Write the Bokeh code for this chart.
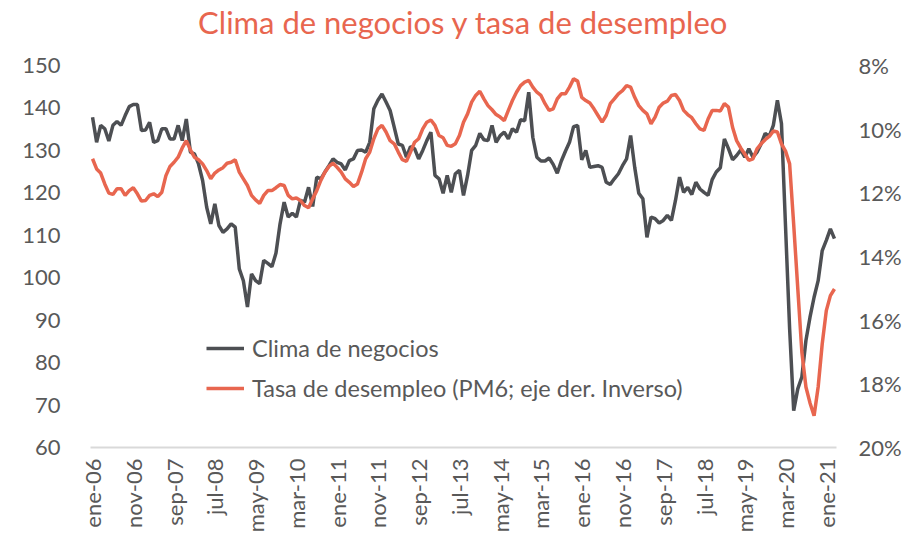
import math
from bokeh.plotting import figure
from bokeh.models import Range1d, LinearAxis, FixedTicker, PrintfTickFormatter, Legend, LegendItem, Title
from bokeh.embed import file_html
from bokeh.resources import INLINE

# ---- data (monthly, ene-06 .. mar-21) ----
clima = [
    137.8, 131.9, 135.9, 135.1, 132.2, 135.9, 136.8, 135.9, 138.2, 140.3,
    140.8, 140.8, 134.7, 134.8, 136.6, 131.9, 132.3, 135.1, 135.1, 132.7,
    132.7, 135.9, 132.3, 137.4, 129.6, 129.2, 126.8, 122.9, 116.6, 112.7,
    117.4, 112.3, 110.7, 111.5, 112.7, 111.9, 102.1, 99.3, 93.1, 100.9,
    99.3, 98.6, 104.1, 103.4, 102.6, 105.8, 112.7, 117.8, 114.3, 115.2,
    114.3, 118.2, 117.8, 121.3, 116.8, 123.7, 123.3, 124.9, 126.4, 128.0,
    127.2, 126.8, 125.4, 127.6, 128.0, 130.0, 130.1, 129.6, 131.9, 139.8,
    141.8, 143.3, 141.4, 139.4, 135.5, 131.5, 131.2, 128.4, 130.9, 130.4,
    128.0, 130.0, 132.3, 134.3, 124.1, 123.3, 119.9, 124.1, 120.1, 124.5,
    125.3, 119.4, 124.1, 130.0, 131.2, 134.0, 132.5, 132.3, 135.9, 131.9,
    133.5, 134.3, 132.7, 135.1, 134.3, 137.2, 137.0, 143.7, 133.1, 128.4,
    127.5, 127.5, 128.2, 126.7, 124.6, 127.5, 129.8, 131.9, 135.6, 135.9,
    127.8, 130.0, 126.0, 126.2, 126.4, 126.0, 122.5, 122.0, 123.3, 124.5,
    126.4, 128.0, 133.5, 126.0, 119.9, 118.6, 109.5, 114.3, 113.9, 112.9,
    113.5, 114.7, 113.5, 118.2, 123.7, 120.1, 121.3, 119.6, 122.5, 120.9,
    120.1, 119.4, 123.1, 124.9, 125.9, 132.7, 130.4, 127.8, 128.8, 130.1,
    128.4, 130.4, 128.4, 129.6, 131.5, 134.0, 133.3, 135.9, 141.8, 136.3,
    112.0, 88.0, 68.7, 73.8, 76.6, 85.2, 90.7, 95.4, 99.3, 106.4,
    108.8, 111.5, 109.2,
]
desempleo = [
    10.93, 11.25, 11.38, 11.72, 12.01, 12.05, 11.87, 11.87, 12.08, 11.93,
    11.84, 12.03, 12.26, 12.24, 12.08, 12.03, 12.12, 11.98, 11.46, 11.17,
    11.04, 10.88, 10.59, 10.36, 10.65, 10.88, 10.96, 11.09, 11.30, 11.56,
    11.38, 11.28, 11.21, 11.07, 11.04, 10.96, 11.35, 11.56, 11.77, 12.08,
    12.22, 12.33, 12.08, 11.93, 11.93, 11.84, 11.74, 11.77, 12.08, 12.19,
    12.16, 12.24, 12.40, 12.47, 12.19, 11.93, 11.61, 11.35, 11.17, 11.07,
    11.20, 11.35, 11.56, 11.67, 11.80, 11.72, 11.35, 10.93, 10.72, 10.30,
    9.99, 9.88, 10.09, 10.36, 10.46, 10.72, 10.96, 11.01, 10.72, 10.41,
    10.30, 9.99, 9.78, 9.71, 9.88, 10.20, 10.27, 10.51, 10.54, 10.46,
    10.20, 9.78, 9.52, 9.15, 8.94, 8.81, 9.05, 9.26, 9.39, 9.54,
    9.62, 9.73, 9.41, 9.10, 8.84, 8.63, 8.52, 8.47, 8.68, 8.84,
    8.94, 9.20, 9.41, 9.36, 9.05, 8.89, 8.89, 8.68, 8.42, 8.49,
    9.00, 9.10, 9.18, 9.36, 9.57, 9.78, 9.57, 9.20, 9.05, 8.89,
    8.79, 8.63, 8.68, 9.00, 9.26, 9.41, 9.52, 9.83, 9.62, 9.31,
    9.18, 9.12, 8.94, 8.91, 9.10, 9.41, 9.54, 9.64, 9.83, 9.99,
    10.04, 9.68, 9.41, 9.41, 9.43, 9.20, 9.31, 9.94, 10.36, 10.59,
    10.78, 10.98, 10.93, 10.62, 10.46, 10.33, 10.23, 10.06, 10.09, 10.46,
    10.69, 11.09, 13.00, 15.00, 17.00, 18.10, 18.60, 19.00, 18.10, 16.74,
    15.70, 15.23, 15.02,
]
tick_labels = ["ene-06", "nov-06", "sep-07", "jul-08", "may-09", "mar-10", "ene-11",
               "nov-11", "sep-12", "jul-13", "may-14", "mar-15", "ene-16", "nov-16",
               "sep-17", "jul-18", "may-19", "mar-20", "ene-21"]
left_ticks = [60, 70, 80, 90, 100, 110, 120, 130, 140, 150]
right_ticks = [8, 10, 12, 14, 16, 18, 20]

assert len(clima) == len(desempleo) == 183

months = list(range(len(clima)))
label_pos = [i * 10 for i in range(len(tick_labels))]

GRAY = "#4D4F53"
RED = "#E8664F"
TXT = "#595959"
FONT = "Lato"

p = figure(width=907, height=546, output_backend="svg", toolbar_location=None,
           x_range=Range1d(-0.5, len(clima) - 0.5), y_range=Range1d(60, 150),
           min_border_left=90, min_border_right=71, min_border_top=65, min_border_bottom=99)
p.extra_y_ranges = {"rate": Range1d(start=20, end=8)}

# blank spacer between the title and the plot frame
p.add_layout(Title(text=" ", text_font=FONT, text_font_size="17px", standoff=0), "above")

p.title.text = "Clima de negocios y tasa de desempleo"
p.title.align = "center"
p.title.vertical_align = "top"
p.title.text_font = FONT
p.title.text_font_size = "31px"
p.title.text_font_style = "normal"
p.title.text_color = RED
p.title.standoff = 0

p.outline_line_color = None
p.xgrid.visible = False
p.ygrid.visible = False

l1 = p.line(months, clima, line_color=GRAY, line_width=3.5)
l2 = p.line(months, desempleo, line_color=RED, line_width=3.5, y_range_name="rate")

# x axis
xa = p.xaxis[0]
xa.ticker = FixedTicker(ticks=label_pos)
xa.major_label_overrides = {pos: lab for pos, lab in zip(label_pos, tick_labels)}
xa.major_label_orientation = math.pi / 2
xa.major_label_text_font = FONT
xa.major_label_text_font_size = "22px"
xa.major_label_text_color = TXT
xa.major_label_standoff = 11
xa.axis_line_color = "#D9D9D9"
xa.axis_line_width = 2
xa.major_tick_line_color = None
xa.minor_tick_line_color = None
xa.major_tick_out = 0
xa.major_tick_in = 0

# left axis
ya = p.yaxis[0]
ya.ticker = FixedTicker(ticks=left_ticks)
ya.axis_line_color = None
ya.major_tick_line_color = None
ya.minor_tick_line_color = None
ya.major_tick_out = 0
ya.major_tick_in = 0
ya.major_label_text_font = FONT
ya.major_label_text_font_size = "22px"
ya.major_label_text_color = TXT
ya.major_label_standoff = 30

# right axis
ra = LinearAxis(y_range_name="rate", ticker=FixedTicker(ticks=right_ticks),
                formatter=PrintfTickFormatter(format="%d%%"))
ra.axis_line_color = None
ra.major_tick_line_color = None
ra.minor_tick_line_color = None
ra.major_tick_out = 0
ra.major_tick_in = 0
ra.major_label_text_font = FONT
ra.major_label_text_font_size = "22px"
ra.major_label_text_color = TXT
ra.major_label_standoff = 22
p.add_layout(ra, "right")

legend = Legend(items=[LegendItem(label="Clima de negocios", renderers=[l1]),
                       LegendItem(label="Tasa de desempleo (PM6; eje der. Inverso)", renderers=[l2])],
                location=(116, 45))
legend.border_line_color = None
legend.background_fill_alpha = 0
legend.label_text_font = FONT
legend.label_text_font_size = "23.5px"
legend.label_text_color = TXT
legend.glyph_width = 38
legend.glyph_height = 28
legend.label_height = 28
legend.spacing = 12
legend.padding = 0
legend.margin = 0
legend.label_standoff = 8
p.add_layout(legend, "center")

open("out.html", "w").write(file_html(p, INLINE))
